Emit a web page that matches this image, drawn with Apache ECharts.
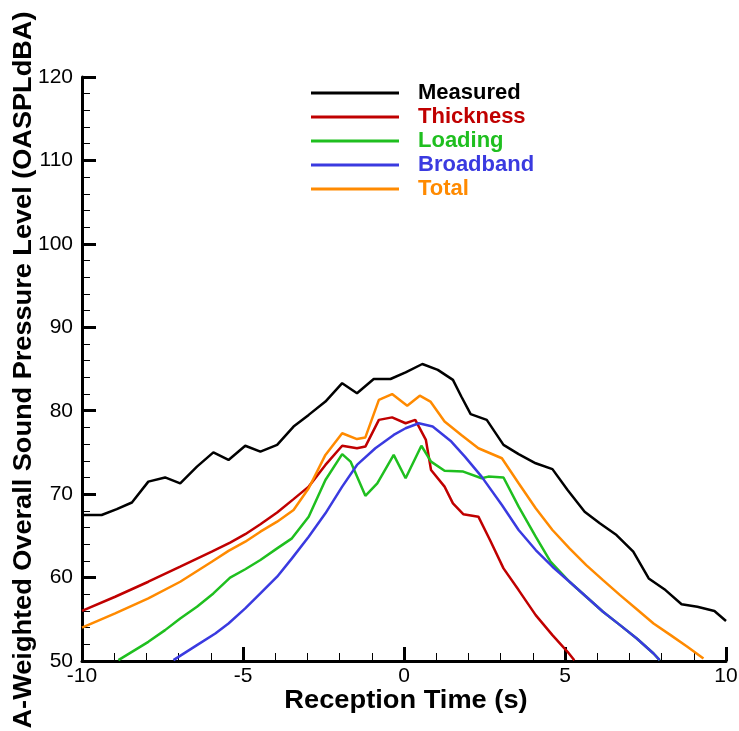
<!DOCTYPE html>
<html><head><meta charset="utf-8">
<script src="https://cdn.jsdelivr.net/npm/echarts@6/dist/echarts.min.js"></script>
<style>html,body{margin:0;padding:0;background:#fff}#c{width:739px;height:731px}</style>
</head><body><div id="c"></div>
<script>
var seriesNames = ['Measured','Thickness','Loading','Broadband','Total'];
var seriesColors = ['#000000','#c00000','#1fbf1f','#3a3ae0','#ff8a00'];
var xTicks = [-10,-5,0,5,10];
var yTicks = [50,60,70,80,90,100,110,120];
var xTitle = 'Reception Time (s)';
var yTitle = 'A-Weighted Overall Sound Pressure Level (OASPLdBA)';

var measuredX = [-10,-9.39,-8.92,-8.45,-7.94,-7.42,-6.95,-6.43,-5.92,-5.45,-4.93,-4.46,-3.94,-3.43,-2.96,-2.44,-1.92,-1.46,-0.94,-0.42,0.05,0.57,1.05,1.52,1.78,2.07,2.57,3.09,3.56,4.09,4.61,5.08,5.61,6.08,6.60,7.12,7.6,8.12,8.62,9.11,9.64,10.0];
var measuredY = [67.5,67.5,68.2,69.0,71.5,72.0,71.3,73.3,75.0,74.1,75.8,75.1,75.9,78.1,79.5,81.1,83.3,82.1,83.8,83.8,84.6,85.6,84.9,83.7,81.7,79.6,78.9,75.9,74.8,73.7,73.0,70.5,67.9,66.5,65.1,63.1,59.9,58.5,56.8,56.5,56.0,54.8];

var thicknessX = [-10,-8.97,-7.94,-6.95,-5.97,-5.40,-4.93,-4.46,-3.94,-3.43,-2.96,-2.44,-1.92,-1.46,-1.20,-0.78,-0.37,0.05,0.35,0.68,0.84,1.26,1.52,1.84,2.31,2.67,3.09,3.56,4.09,4.61,5.08,5.29];
var thicknessY = [56.0,57.7,59.5,61.3,63.1,64.2,65.2,66.4,67.8,69.4,70.9,73.5,75.8,75.5,75.7,78.9,79.2,78.5,78.9,76.5,72.9,70.9,68.9,67.6,67.3,64.5,61.1,58.5,55.5,53.1,51.1,50.1];

var loadingX = [-8.87,-7.94,-7.42,-6.95,-6.43,-5.92,-5.40,-4.93,-4.46,-3.94,-3.48,-2.96,-2.44,-1.92,-1.66,-1.20,-0.83,-0.32,0.05,0.54,0.84,1.26,1.84,2.41,2.62,3.09,3.56,4.09,4.55,5.14,5.66,6.18,6.71,7.23,7.75,7.94];
var loadingY = [50.1,52.3,53.7,55.1,56.5,58.1,60.0,61.0,62.1,63.5,64.7,67.3,71.7,74.8,73.9,69.8,71.3,74.7,71.9,75.8,73.9,72.8,72.7,71.9,72.1,72.0,68.5,64.9,61.9,59.5,57.7,55.9,54.3,52.7,50.9,50.1];

var broadbandX = [-7.16,-6.43,-5.86,-5.45,-4.93,-4.46,-3.94,-3.48,-2.96,-2.44,-1.92,-1.46,-0.89,-0.32,0.05,0.46,0.89,1.47,1.89,2.41,3.04,3.56,4.09,4.61,5.14,5.66,6.18,6.71,7.23,7.75,7.94];
var broadbandY = [50.1,51.9,53.3,54.5,56.3,58.1,60.1,62.3,64.9,67.7,70.9,73.5,75.5,77.1,77.9,78.5,78.1,76.3,74.5,72.1,68.7,65.7,63.3,61.3,59.5,57.7,55.9,54.3,52.7,50.9,50.1];

var totalX = [-10,-8.97,-7.94,-6.95,-5.97,-5.45,-4.93,-4.46,-3.94,-3.43,-2.96,-2.44,-1.92,-1.46,-1.20,-0.78,-0.37,0.10,0.49,0.82,1.26,1.78,2.31,3.04,3.56,4.09,4.61,5.14,5.66,6.18,6.71,7.23,7.75,8.28,8.80,9.30];
var totalY = [54.0,55.7,57.5,59.5,61.9,63.2,64.3,65.5,66.7,68.1,70.7,74.7,77.3,76.6,76.8,81.3,82.0,80.6,81.8,81.1,78.7,77.1,75.5,74.3,71.3,68.3,65.7,63.5,61.5,59.7,57.9,56.2,54.5,53.1,51.7,50.3];

function pairs(xs, ys){ return xs.map(function(x,i){ return [x, ys[i]]; }); }
var allData = [pairs(measuredX,measuredY), pairs(thicknessX,thicknessY), pairs(loadingX,loadingY), pairs(broadbandX,broadbandY), pairs(totalX,totalY)];
var drawOrder = [0,1,2,4,3];
var FONT = 'Liberation Sans, Arial, sans-serif';

var chart = echarts.init(document.getElementById('c'));
var axisFont = {fontFamily:FONT, fontSize:21, color:'#000'};
function axisCommon(){
  return {
    axisLine:{show:true, onZero:false, lineStyle:{color:'#000', width:3}},
    axisTick:{show:true, inside:true, length:14, lineStyle:{color:'#000', width:3}},
    minorTick:{show:true, splitNumber:5, length:8, lineStyle:{color:'#000', width:1}},
    splitLine:{show:false}
  };
}
chart.setOption({
  animation:false,
  backgroundColor:'#fff',
  grid:{left:82, right:13, top:77, bottom:70, containLabel:false, outerBoundsMode:'none'},
  legend:{
    orient:'vertical', left:311, top:82, padding:0, itemWidth:88, itemHeight:3, itemGap:2,
    icon:'rect',
    data: seriesNames.map(function(n,i){ return {name:n, itemStyle:{color:seriesColors[i]}, textStyle:{color:seriesColors[i]}}; }),
    textStyle:{fontFamily:FONT, fontSize:22, lineHeight:22, fontWeight:'bold', padding:[0,0,0,14]}
  },
  graphic:[
    {type:'text', x:406, y:701, scaleX:1.09, z:10,
     style:{text:xTitle, font:'bold 25px ' + FONT, fill:'#000', align:'center', verticalAlign:'middle'}},
    {type:'text', x:24, y:370, rotation:Math.PI/2, scaleX:1.085, z:10,
     style:{text:yTitle, font:'bold 25px ' + FONT, fill:'#000', align:'center', verticalAlign:'middle'}}
  ],
  xAxis:Object.assign({
    type:'value', min:-10, max:10, interval:5,
    axisLabel:Object.assign({margin:5, formatter:function(v){ return xTicks.indexOf(v)>=0 ? String(v) : ''; }}, axisFont)
  }, axisCommon()),
  yAxis:Object.assign({
    type:'value', min:50, max:120, interval:10,
    axisLabel:Object.assign({margin:9, formatter:function(v){ return yTicks.indexOf(v)>=0 ? String(v) : ''; }}, axisFont)
  }, axisCommon()),
  series: drawOrder.map(function(i){
    return {
      name:seriesNames[i], type:'line', data:allData[i], symbol:'none', showSymbol:false,
      lineStyle:{color:seriesColors[i], width:2.5}, itemStyle:{color:seriesColors[i]},
      z: 2, clip:true
    };
  })
});
</script></body></html>
